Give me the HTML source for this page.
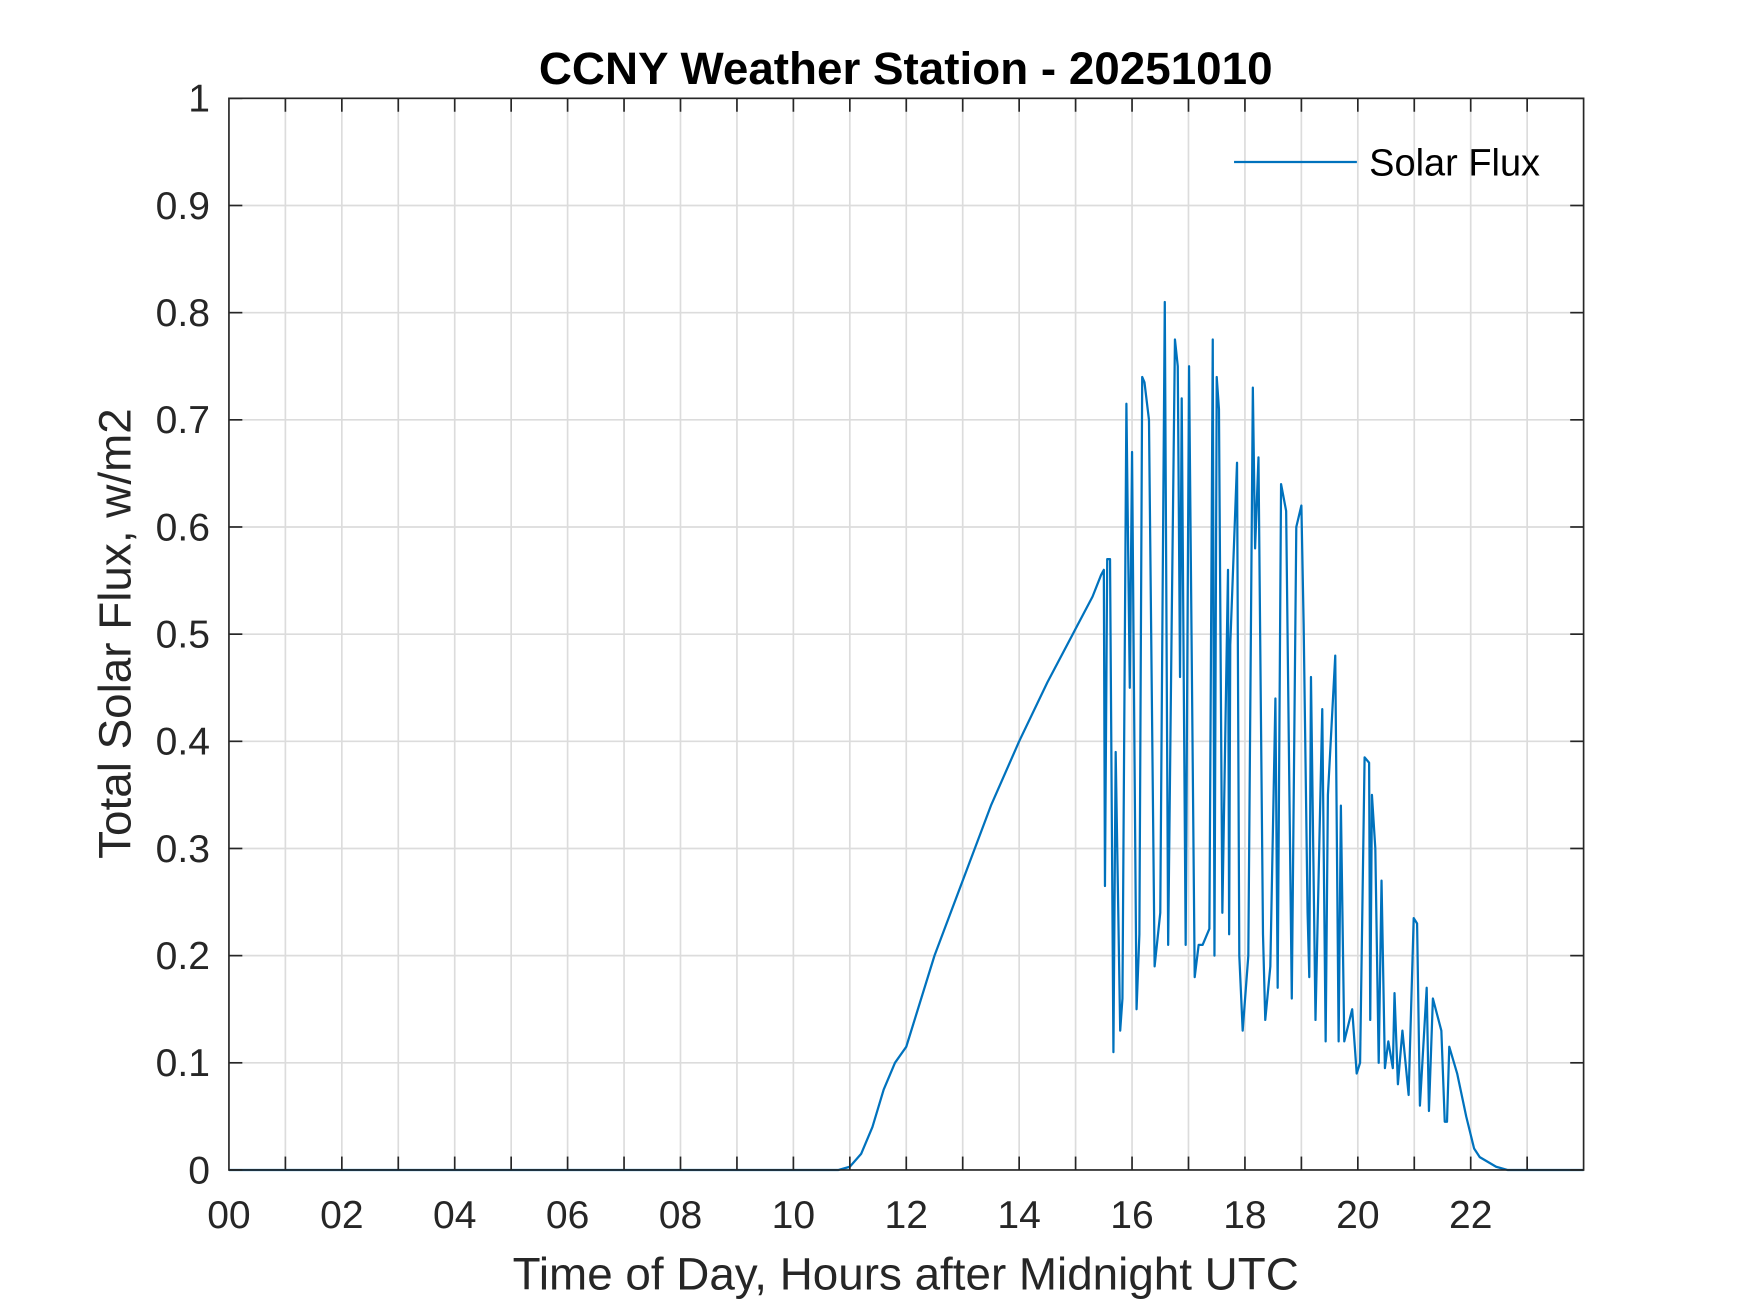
<!DOCTYPE html>
<html><head><meta charset="utf-8"><style>html,body{margin:0;padding:0;background:#fff}svg{display:block}</style></head>
<body>
<svg id="chart" width="1750" height="1313" viewBox="0 0 1567 1175" preserveAspectRatio="none" xmlns="http://www.w3.org/2000/svg" font-family="'Liberation Sans', Arial, sans-serif">
<rect x="0" y="0" width="1567" height="1175" fill="#fff"/>
<rect x="205" y="88" width="1213" height="959" fill="#fff"/>
<g id="grid"></g>
<g id="series"></g>
<rect x="205" y="88" width="1213" height="959" fill="none" stroke="#262626" stroke-width="1.5"/>
<g id="ticks"></g>
<text x="811" y="75" text-anchor="middle" font-size="41" font-weight="bold" fill="#000">CCNY Weather Station - 20251010</text>
<text x="811" y="1154" text-anchor="middle" font-size="41" fill="#262626">Time of Day, Hours after Midnight UTC</text>
<text transform="translate(117,567) rotate(-90)" text-anchor="middle" font-size="41" fill="#262626">Total Solar Flux, w/m2</text>
<g>
<line x1="1105" y1="145" x2="1215" y2="145" stroke="#0072BD" stroke-width="2"/>
<text x="1226" y="157" font-size="34" fill="#000">Solar Flux</text>
</g>
</svg>
<script>
const hours = [0,10.8,11.0,11.2,11.4,11.6,11.8,12.0,12.5,13.0,13.5,14.0,14.5,15.0,15.3,15.45,15.5,15.52,15.56,15.61,15.67,15.71,15.79,15.83,15.9,15.96,16.0,16.08,16.13,16.18,16.22,16.3,16.4,16.5,16.58,16.64,16.7,16.76,16.81,16.85,16.88,16.95,17.01,17.11,17.18,17.25,17.37,17.43,17.46,17.5,17.54,17.6,17.7,17.72,17.74,17.86,17.9,17.96,18.06,18.14,18.18,18.24,18.32,18.36,18.45,18.54,18.58,18.64,18.73,18.83,18.91,19.0,19.04,19.11,19.14,19.17,19.25,19.37,19.43,19.47,19.6,19.66,19.7,19.76,19.9,19.98,20.04,20.12,20.2,20.22,20.25,20.31,20.37,20.42,20.48,20.54,20.62,20.65,20.71,20.79,20.9,20.99,21.05,21.1,21.22,21.26,21.33,21.48,21.54,21.58,21.62,21.76,21.92,22.06,22.16,22.45,22.65,24.0];
const flux = [0,0,0.003,0.015,0.04,0.075,0.1,0.115,0.2,0.27,0.34,0.4,0.455,0.505,0.535,0.555,0.56,0.265,0.57,0.57,0.11,0.39,0.13,0.16,0.715,0.45,0.67,0.15,0.22,0.74,0.735,0.7,0.19,0.24,0.81,0.21,0.5,0.775,0.75,0.46,0.72,0.21,0.75,0.18,0.21,0.21,0.225,0.775,0.2,0.74,0.71,0.24,0.56,0.22,0.49,0.66,0.2,0.13,0.2,0.73,0.58,0.665,0.22,0.14,0.19,0.44,0.17,0.64,0.615,0.16,0.6,0.62,0.51,0.24,0.18,0.46,0.14,0.43,0.12,0.35,0.48,0.12,0.34,0.12,0.15,0.09,0.1,0.385,0.38,0.14,0.35,0.3,0.1,0.27,0.095,0.12,0.095,0.165,0.08,0.13,0.07,0.235,0.23,0.06,0.17,0.055,0.16,0.13,0.045,0.045,0.115,0.09,0.05,0.02,0.012,0.003,0,0];
const xTickLabels = ["00","02","04","06","08","10","12","14","16","18","20","22"];
const yTickLabels = ["0","0.1","0.2","0.3","0.4","0.5","0.6","0.7","0.8","0.9","1"];

const NS = "http://www.w3.org/2000/svg";
const L = 205, R = 1418, T = 88, B = 1047;
function xs(h){ return L + (R - L) * h / 24; }
function ys(v){ return B - (B - T) * v; }
function mk(tag, attrs, parent){ const e = document.createElementNS(NS, tag); for (const k in attrs) e.setAttribute(k, attrs[k]); parent.appendChild(e); return e; }
const grid = document.getElementById('grid'), ticks = document.getElementById('ticks'), series = document.getElementById('series');
for (let h = 1; h < 24; h++) {
  const g = mk('line', {x1: xs(h), x2: xs(h), y1: T, y2: B, stroke: '#dcdcdc', 'stroke-width': 1.5}, grid);
  
  
  [[B, B - 12], [T, T + 12]].forEach(p => {
    const t = mk('line', {x1: xs(h), x2: xs(h), y1: p[0], y2: p[1], stroke: '#262626', 'stroke-width': 1.5}, ticks);
    
    
  });
}
xTickLabels.forEach((lab, i) => {
  const t = mk('text', {x: xs(i * 2), y: B + 52, 'text-anchor': 'middle', 'font-size': 35, fill: '#262626'}, ticks);
  t.textContent = lab;
  
  
});
yTickLabels.forEach((lab, i) => {
  const v = parseFloat(lab);
  if (i > 0 && i < yTickLabels.length - 1) {
    const g = mk('line', {x1: L, x2: R, y1: ys(v), y2: ys(v), stroke: '#dcdcdc', 'stroke-width': 1.5}, grid);
    
    
  }
  [[L, L + 12], [R, R - 12]].forEach(p => {
    const t = mk('line', {x1: p[0], x2: p[1], y1: ys(v), y2: ys(v), stroke: '#262626', 'stroke-width': 1.5}, ticks);
    
    
  });
  const t = mk('text', {x: L - 17, y: ys(v) + 12, 'text-anchor': 'end', 'font-size': 35, fill: '#262626'}, ticks);
  t.textContent = lab;
  
  
});
const d = hours.map((h, i) => (i ? 'L' : 'M') + xs(h).toFixed(2) + ' ' + ys(flux[i]).toFixed(2)).join(' ');
const p = mk('path', {d: d, fill: 'none', stroke: '#0072BD', 'stroke-width': 2, 'stroke-linejoin': 'round'}, series);


</script>
</body></html>
